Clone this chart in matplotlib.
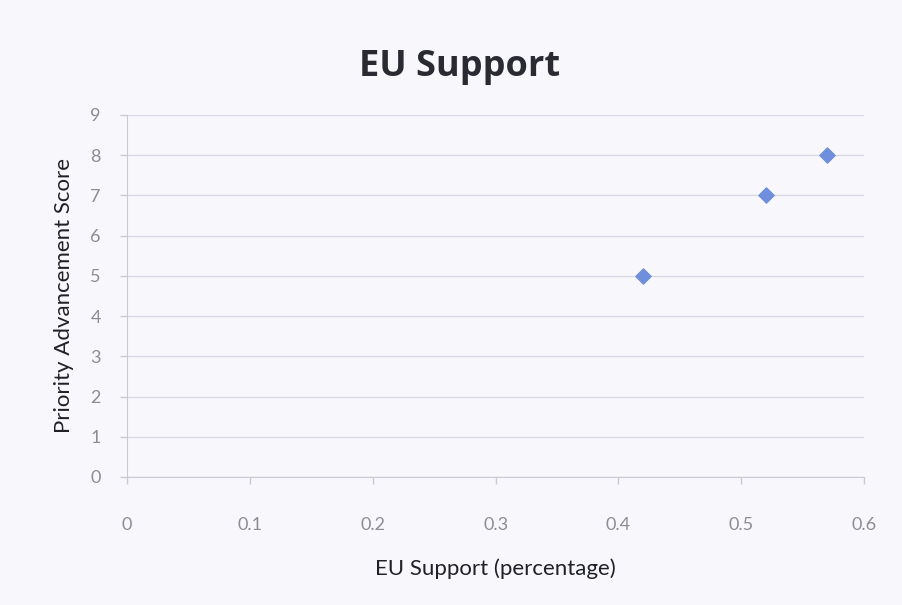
import matplotlib.pyplot as plt

# data
support = [0.42, 0.52, 0.57]
score = [5, 7, 8]
xticks = [0, 0.1, 0.2, 0.3, 0.4, 0.5, 0.6]
xticklabels = ['0', '0.1', '0.2', '0.3', '0.4', '0.5', '0.6']
yticks = list(range(10))

plt.rcParams['font.family'] = ['Lato', 'DejaVu Sans']

bg = '#f8f8fc'
fig = plt.figure(figsize=(9.02, 6.05), dpi=100, facecolor=bg)
ax = fig.add_axes([0.141, 0.2116, 0.817, 0.5984])
ax.set_facecolor(bg)

ax.scatter(support, score, marker='D', s=60, color='#6f8fdc', edgecolors='#6f8fdc', zorder=3)

ax.set_xlim(0, 0.6)
ax.set_ylim(0, 9)
ax.set_xticks(xticks)
ax.set_xticklabels(xticklabels)
ax.set_yticks(yticks)

ax.yaxis.grid(True, color='#d8d9e4', linewidth=1)
ax.set_axisbelow(True)
for side in ['top', 'right']:
    ax.spines[side].set_visible(False)
for side in ['left', 'bottom']:
    ax.spines[side].set_color('#c8cad8')

ax.tick_params(axis='both', colors='#c8cad8', labelcolor='#8c8c95', labelsize=13, length=5, width=1)
ax.tick_params(axis='x', pad=24)
ax.tick_params(axis='y', pad=14)

fig.text(0.51, 0.889, 'EU Support', fontsize=26, fontweight='bold', color='#2a2a33',
         ha='center', va='center', family=['Open Sans', 'DejaVu Sans'])
ax.set_xlabel('EU Support (percentage)', fontsize=16, color='#202028', labelpad=18)
ax.set_ylabel('Priority Advancement Score', fontsize=16, color='#202028', labelpad=12)

fig.savefig('out.png', dpi=100, facecolor=bg)
